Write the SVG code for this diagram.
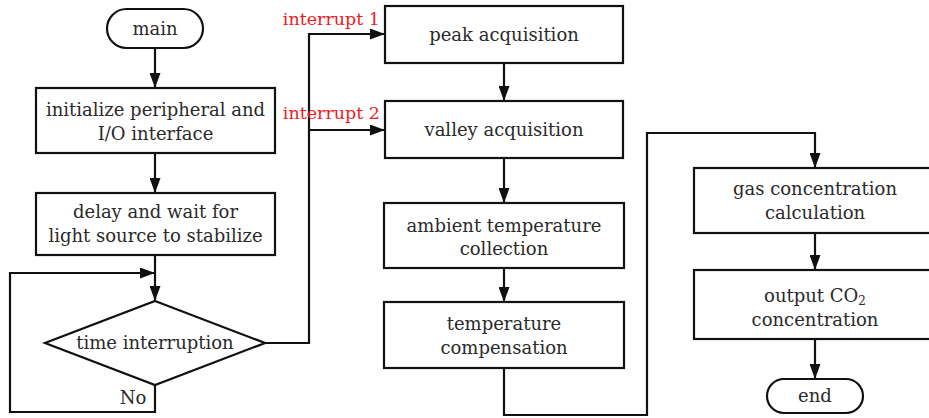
<svg xmlns="http://www.w3.org/2000/svg" width="929" height="418" viewBox="0 0 929 418">
<defs>
<style>
.box{fill:#fff;stroke:#111;stroke-width:2.2}
.t{font-family:"DejaVu Serif","Liberation Serif",serif;font-size:18px;fill:#2a2a2a;text-anchor:middle}
.red{font-family:"DejaVu Serif","Liberation Serif",serif;font-size:17.5px;fill:#ee1c24;text-anchor:end}
.c{fill:none;stroke:#111;stroke-width:2.2}
</style>
<marker id="arr" markerUnits="userSpaceOnUse" markerWidth="15" markerHeight="11" refX="15" refY="5.5" orient="auto">
<path d="M0,0 L15,5.5 L0,11 z" fill="#111"/>
</marker>
</defs>
<rect width="929" height="418" fill="#fff"/>
<g id="connectors">
<path class="c" d="M155,48 V88" marker-end="url(#arr)"/>
<path class="c" d="M155,153 V193" marker-end="url(#arr)"/>
<path class="c" d="M155,255 V301" marker-end="url(#arr)"/>
<path class="c" d="M155,385 V412 H10 V273 H155" marker-end="url(#arr)"/>
<path class="c" d="M265,343 H309 V34 H385" marker-end="url(#arr)"/>
<path class="c" d="M309,130 H385" marker-end="url(#arr)"/>
<path class="c" d="M504,63 V101" marker-end="url(#arr)"/>
<path class="c" d="M504,158 V203" marker-end="url(#arr)"/>
<path class="c" d="M504,268 V302" marker-end="url(#arr)"/>
<path class="c" d="M504,368 V415 H647 V133 H815 V168" marker-end="url(#arr)"/>
<path class="c" d="M815,233 V270" marker-end="url(#arr)"/>
<path class="c" d="M815,339 V379" marker-end="url(#arr)"/>
<text class="red" x="380" y="25">interrupt 1</text>
<text class="red" x="380" y="119">interrupt 2</text>
<text class="t" x="133" y="404">No</text>
</g>
<g id="main">
<rect class="box" x="107" y="9" width="96" height="39" rx="19.5"/>
<text class="t" x="155" y="35">main</text>
</g>
<g id="init">
<rect class="box" x="36" y="88" width="239" height="65"/>
<text class="t" x="155.5" y="116">initialize peripheral and</text>
<text class="t" x="155.5" y="140">I/O interface</text>
</g>
<g id="delay">
<rect class="box" x="36" y="193" width="239" height="62"/>
<text class="t" x="155.5" y="218">delay and wait for</text>
<text class="t" x="155.5" y="242">light source to stabilize</text>
</g>
<g id="decision">
<polygon class="box" points="155,301 265,343 155,385 45,343"/>
<text class="t" x="155" y="349">time interruption</text>
</g>
<g id="peak">
<rect class="box" x="385" y="6" width="238" height="57"/>
<text class="t" x="504" y="41">peak acquisition</text>
</g>
<g id="valley">
<rect class="box" x="385" y="101" width="238" height="57"/>
<text class="t" x="504" y="136">valley acquisition</text>
</g>
<g id="ambient">
<rect class="box" x="384" y="203" width="240" height="65"/>
<text class="t" x="504" y="232">ambient temperature</text>
<text class="t" x="504" y="255">collection</text>
</g>
<g id="compensation">
<rect class="box" x="384" y="302" width="240" height="66"/>
<text class="t" x="504" y="330">temperature</text>
<text class="t" x="504" y="354">compensation</text>
</g>
<g id="gas">
<rect class="box" x="694" y="168" width="242" height="65"/>
<text class="t" x="815" y="195">gas concentration</text>
<text class="t" x="815" y="219">calculation</text>
</g>
<g id="output">
<rect class="box" x="694" y="270" width="242" height="69"/>
<text class="t" x="815" y="302">output CO<tspan font-size="12" dy="3">2</tspan></text>
<text class="t" x="815" y="326">concentration</text>
</g>
<g id="end">
<rect class="box" x="767" y="379" width="96" height="34" rx="17"/>
<text class="t" x="815" y="402">end</text>
</g>
</svg>
